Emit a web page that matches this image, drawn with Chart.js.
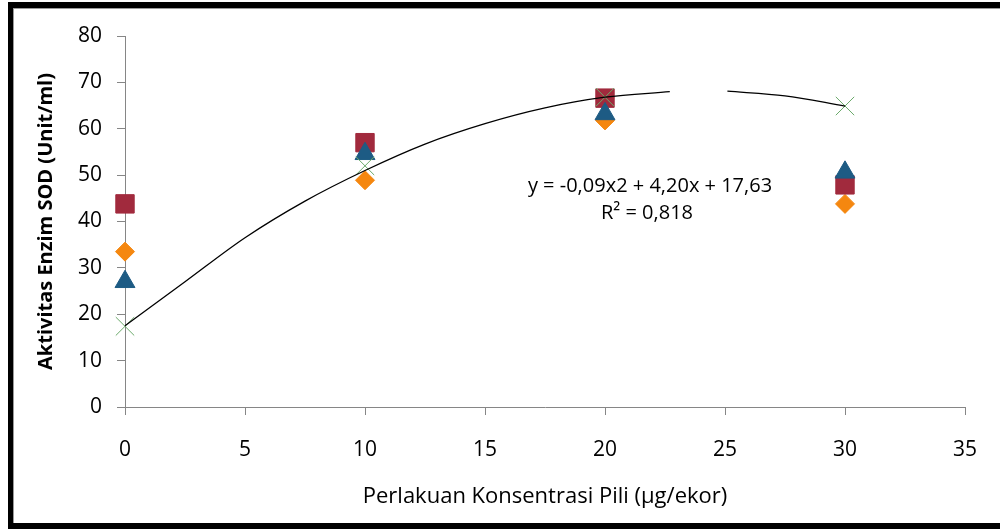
<!DOCTYPE html>
<html>
<head>
<meta charset="utf-8">
<script src="https://cdn.jsdelivr.net/npm/chart.js@4/dist/chart.umd.min.js"></script>
<style>
  html, body { margin: 0; padding: 0; background: #fff; }
  #wrap { width: 1000px; height: 529px; position: relative; }
</style>
</head>
<body>
<div id="wrap"><canvas id="c"></canvas></div>
<script>
// ---- data ----
const xValues = [0, 10, 20, 30];
const seriesDiamond = [33.5, 48.9, 61.8, 43.8];
const seriesSquare = [43.8, 57.0, 66.6, 47.9];
const seriesTriangle = [27.0, 54.6, 63.2, 50.6];
const seriesCross = [17.4, 52.0, 66.8, 64.9];
// trendline (gap where it is broken in the reference)
const trendX = [0, 2.5, 5, 7.5, 10, 12.5, 15, 17.5, 20, 22.7, 23.9, 25.1, 27.5, 30];
const trendY = [17.5, 27.0, 36.5, 44.4, 51.0, 56.7, 61.1, 64.5, 66.8, 68.0, null, 68.1, 67.1, 64.9];
const xTicks = [0, 5, 10, 15, 20, 25, 30, 35];
const yTicks = [0, 10, 20, 30, 40, 50, 60, 70, 80];
const equationLines = ['y = -0,09x2 + 4,20x + 17,63', 'R² = 0,818'];
const xTitle = 'Perlakuan Konsentrasi Pili (µg/ekor)';
const yTitle = 'Aktivitas Enzim SOD (Unit/ml)';

const pts = (ys) => xValues.map((x, i) => ({ x: x, y: ys[i] }));
const trendPts = trendX.map((x, i) => ({ x: x, y: trendY[i] }));

const framePlugin = {
  id: 'frame',
  beforeDraw(chart) {
    const ctx = chart.ctx;
    ctx.save();
    ctx.fillStyle = '#fff';
    ctx.fillRect(0, 0, chart.width, chart.height);
    ctx.restore();
  },
  afterDraw(chart) {
    const ctx = chart.ctx;
    ctx.save();
    ctx.fillStyle = '#000';
    ctx.fillRect(8, 2, 992, 6);      // top
    ctx.fillRect(8, 2, 5, 527);      // left
    ctx.fillRect(8, 523, 992, 6);    // bottom
    ctx.fillStyle = '#9a9a9a';
    ctx.fillRect(13, 8, 987, 1);
    ctx.fillRect(13, 8, 1, 515);
    ctx.restore();
  }
};

const eqPlugin = {
  id: 'equation',
  afterDatasetsDraw(chart) {
    const ctx = chart.ctx;
    ctx.save();
    ctx.fillStyle = '#000';
    ctx.textAlign = 'center';
    ctx.textBaseline = 'middle';
    ctx.font = '20px "Open Sans"';
    ctx.fillText(equationLines[0], 650, 186, 262);
    ctx.fillText(equationLines[1], 647, 213, 102);
    ctx.restore();
  }
};

const axisGray = '#868686';

new Chart(document.getElementById('c'), {
  type: 'scatter',
  data: {
    datasets: [
      {
        label: 'trend', type: 'line', data: trendPts, order: 0, clip: false,
        borderColor: '#000', borderWidth: 1.3, pointRadius: 0, fill: false,
        spanGaps: false, cubicInterpolationMode: 'monotone'
      },
      {
        label: 'X', data: pts(seriesCross), order: 1, pointStyle: 'crossRot', clip: false,
        pointRadius: 13, borderColor: '#6BAA6B', backgroundColor: '#6BAA6B', pointBorderWidth: 1
      },
      {
        label: 'Triangle', data: pts(seriesTriangle), order: 2, pointStyle: 'triangle', clip: false,
        pointRadius: 11.5, borderColor: '#1D5B84', backgroundColor: '#1D5B84', pointBorderWidth: 1
      },
      {
        label: 'Square', data: pts(seriesSquare), order: 3, pointStyle: 'rect', clip: false,
        pointRadius: 13, borderColor: '#A12A3D', backgroundColor: '#A12A3D', pointBorderWidth: 1
      },
      {
        label: 'Diamond', data: pts(seriesDiamond), order: 4, pointStyle: 'rectRot', clip: false,
        pointRadius: 9.5, borderColor: '#F5870F', backgroundColor: '#F5870F', pointBorderWidth: 1
      }
    ]
  },
  options: {
    responsive: true,
    maintainAspectRatio: false,
    animation: false,
    layout: { padding: { top: 36, right: 35, bottom: 0, left: 0 } },
    plugins: { legend: { display: false }, tooltip: { enabled: false } },
    scales: {
      x: {
        type: 'linear', min: 0, max: 35,
        afterBuildTicks: (s) => { s.ticks = xTicks.map(v => ({ value: v })); },
        afterFit: (s) => { s.height = 122; },
        grid: { display: true, drawOnChartArea: false, drawTicks: true, tickLength: 8, color: axisGray, lineWidth: 1 },
        border: { display: true, color: axisGray, width: 1 },
        ticks: { color: '#000', font: { family: 'Open Sans', size: 21 }, padding: 22, maxRotation: 0 },
        title: { display: true, text: xTitle, color: '#000', font: { family: 'Open Sans', size: 22 }, padding: { top: 0, bottom: 19 } }
      },
      y: {
        type: 'linear', min: 0, max: 80,
        afterBuildTicks: (s) => { s.ticks = yTicks.map(v => ({ value: v })); },
        afterFit: (s) => { s.width = 125; },
        grid: { display: true, drawOnChartArea: false, drawTicks: true, tickLength: 8, color: axisGray, lineWidth: 1 },
        border: { display: true, color: axisGray, width: 1 },
        ticks: { color: '#000', font: { family: 'Open Sans', size: 21 }, padding: 15 },
        title: { display: true, text: yTitle, color: '#000', font: { family: 'Open Sans', size: 20, weight: 'bold' }, padding: { top: 34, bottom: 0 } }
      }
    }
  },
  plugins: [framePlugin, eqPlugin]
});
</script>
</body>
</html>
